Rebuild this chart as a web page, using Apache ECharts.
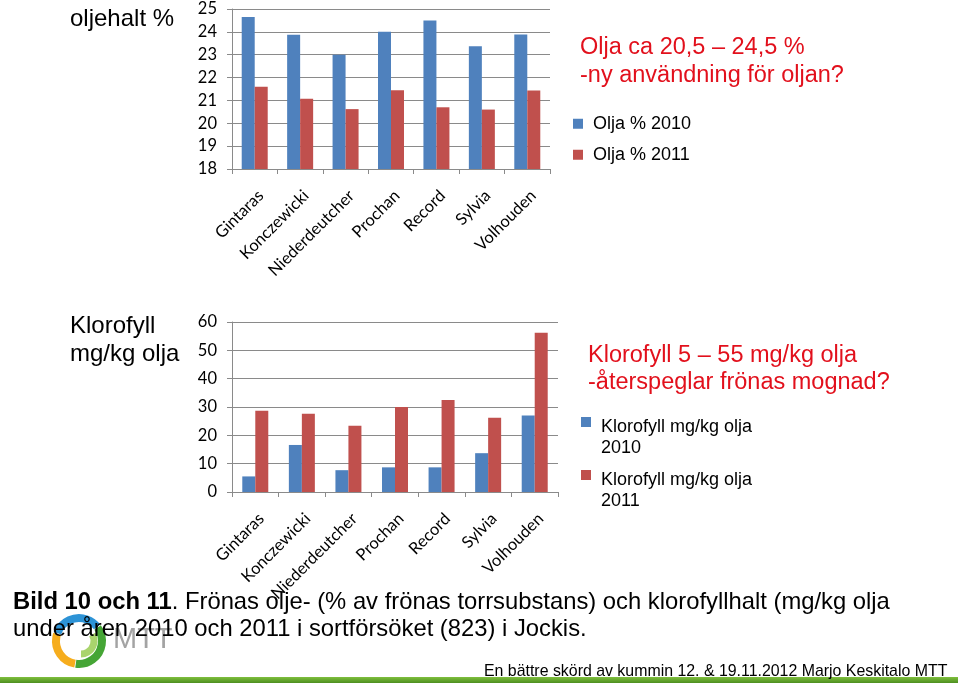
<!DOCTYPE html>
<html><head><meta charset="utf-8">
<script src="https://cdn.jsdelivr.net/npm/echarts@6/dist/echarts.min.js"></script>
<style>html,body{margin:0;padding:0;background:#fff}#c{width:960px;height:686px}</style>
</head><body><div id="c"></div>
<script>
// ---- data ----
const categories = ['Gintaras', 'Konczewicki', 'Niederdeutcher', 'Prochan', 'Record', 'Sylvia', 'Volhouden'];
const oil2010 = [24.65, 23.87, 23.0, 24.0, 24.5, 23.37, 23.88];
const oil2011 = [21.6, 21.07, 20.62, 21.45, 20.7, 20.6, 21.43];
const chl2010 = [5.5, 16.6, 7.7, 8.7, 8.7, 13.7, 27.0];
const chl2011 = [28.7, 27.6, 23.4, 30.0, 32.5, 26.2, 56.2];
const oilTicks = [18, 19, 20, 21, 22, 23, 24, 25];
const chlTicks = [0, 10, 20, 30, 40, 50, 60];
const seriesNames = ['Olja % 2010', 'Olja % 2011', 'Klorofyll mg/kg olja 2010', 'Klorofyll mg/kg olja 2011'];

const BLUE = '#4F81BD', RED = '#C0504D', GRID = '#8a8a8a';
const SANS = '"Liberation Sans", Arial, sans-serif';
const LABF = 'Lato, "Open Sans", sans-serif';
const TITLE_RED = '#e2101c';

function xAxis(gi) {
  return {
    type: 'category', gridIndex: gi, data: categories,
    axisLine: { lineStyle: { color: GRID, width: 1 } },
    axisTick: { show: true, length: 5, lineStyle: { color: GRID } },
    axisLabel: { interval: 0, rotate: 45, margin: 18, verticalAlign: 'top',
      color: '#000', fontFamily: LABF, fontSize: 16.5 }
  };
}
function yAxis(gi, ticks) {
  return {
    type: 'value', gridIndex: gi, min: ticks[0], max: ticks[ticks.length - 1],
    interval: ticks[1] - ticks[0],
    axisLine: { show: true, lineStyle: { color: GRID } },
    axisTick: { show: true, length: 5, lineStyle: { color: GRID } },
    splitLine: { show: true, lineStyle: { color: GRID, width: 1 } },
    axisLabel: { margin: 15, color: '#000', fontFamily: LABF, fontSize: 16.5 }
  };
}
function bar(name, data, gi, color) {
  return { type: 'bar', name, data, xAxisIndex: gi, yAxisIndex: gi,
    barWidth: 13, barGap: '0%', itemStyle: { color } };
}
const legendRich = {
  s: { width: 5, fontFamily: SANS, fontSize: 18, color: '#000' },
  t: { fontFamily: SANS, fontSize: 18, color: '#000', lineHeight: 21.5 },
  e: { height: 31, lineHeight: 31, fontSize: 2 }
};
function legendTop(name, top) {
  return { data: [name], left: 573, top, orient: 'vertical', padding: 0,
    selectedMode: false, itemWidth: 10, itemHeight: 10, itemGap: 0, icon: 'rect',
    formatter: n => '{s|}{t|' + n + '}',
    textStyle: { fontFamily: SANS, fontSize: 18, color: '#000', lineHeight: 18, rich: legendRich } };
}
function legendBottom(name, top) {
  return { data: [name], left: 581, top, orient: 'vertical', padding: 0,
    selectedMode: false, itemWidth: 10, itemHeight: 10, itemGap: 0, icon: 'rect',
    formatter: n => {
      const parts = n.split(' olja ');
      return '{e|}\n{s|}{t|' + parts[0] + ' olja}\n{s|}{t|' + parts[1] + '}';
    },
    textStyle: { fontFamily: SANS, fontSize: 18, color: '#000', lineHeight: 21.5, rich: legendRich } };
}
function txt(text, x, y, size, color, extra) {
  return Object.assign({ type: 'text', x, y, silent: true,
    style: { text, fontFamily: SANS, fontSize: size, fill: color, verticalAlign: 'middle', align: 'left' } }, extra || {});
}

const chart = echarts.init(document.getElementById('c'), null, { renderer: 'canvas' });
chart.setOption({
  animation: false,
  backgroundColor: '#fff',
  grid: [
    { left: 232, top: 9, width: 318, height: 160, outerBoundsMode: 'none' },
    { left: 232, top: 322, width: 326, height: 170, outerBoundsMode: 'none' }
  ],
  xAxis: [xAxis(0), xAxis(1)],
  yAxis: [yAxis(0, oilTicks), yAxis(1, chlTicks)],
  legend: [
    legendTop(seriesNames[0], 113),
    legendTop(seriesNames[1], 144),
    legendBottom(seriesNames[2], 385),
    legendBottom(seriesNames[3], 438)
  ],
  series: [
    bar(seriesNames[0], oil2010, 0, BLUE),
    bar(seriesNames[1], oil2011, 0, RED),
    bar(seriesNames[2], chl2010, 1, BLUE),
    bar(seriesNames[3], chl2011, 1, RED)
  ],
  graphic: [
    // logo
    { type: 'group', silent: true, children: [
      { type: 'arc', shape: { cx: 79, cy: 641, r: 23, startAngle: 200 * Math.PI / 180, endAngle: 322 * Math.PI / 180 },
        style: { stroke: '#2d93d6', lineWidth: 8, fill: null } },
      { type: 'arc', shape: { cx: 79, cy: 641, r: 23, startAngle: 100 * Math.PI / 180, endAngle: 198 * Math.PI / 180 },
        style: { stroke: '#f6ad1d', lineWidth: 8, fill: null } },
      { type: 'arc', shape: { cx: 79, cy: 641, r: 23, startAngle: -36 * Math.PI / 180, endAngle: 98 * Math.PI / 180 },
        style: { stroke: '#45a535', lineWidth: 8, fill: null } },
      { type: 'arc', shape: { cx: 81, cy: 641, r: 13, startAngle: -30 * Math.PI / 180, endAngle: 90 * Math.PI / 180 },
        style: { stroke: '#a9d46d', lineWidth: 7, fill: null } },
      { type: 'text', x: 113, y: 640, style: { text: 'MTT', fontFamily: SANS, fontSize: 29, fill: '#a3a3a3', verticalAlign: 'middle' } }
    ] },
    // left titles
    txt('oljehalt %', 70, 19, 24, '#000'),
    txt('Klorofyll', 70, 326, 24, '#000'),
    txt('mg/kg olja', 70, 354.5, 24, '#000'),
    // red notes
    txt('Olja ca 20,5 – 24,5 %', 580, 48, 23.5, TITLE_RED),
    txt('-ny användning för oljan?', 580, 75.5, 23.5, TITLE_RED),
    txt('Klorofyll 5 – 55 mg/kg olja', 588, 356, 23.5, TITLE_RED),
    txt('-återspeglar frönas mognad?', 588, 383, 23.5, TITLE_RED),
    // caption
    { type: 'text', x: 13, y: 602.7, silent: true, style: {
        text: '{b|Bild 10 och 11}. Frönas olje- (% av frönas torrsubstans) och klorofyllhalt (mg/kg olja',
        fontFamily: SANS, fontSize: 23.8, fill: '#000', verticalAlign: 'middle',
        rich: { b: { fontFamily: SANS, fontSize: 23.8, fontWeight: 'bold', fill: '#000' } } } },
    txt('under åren 2010 och 2011 i sortförsöket (823) i Jockis.', 13, 629.4, 23.8, '#000'),
    // footer
    { type: 'rect', silent: true, shape: { x: 0, y: 677, width: 958, height: 6 },
      style: { fill: new echarts.graphic.LinearGradient(0, 0, 0, 1, [
        { offset: 0, color: '#7fbf3d' }, { offset: 1, color: '#4d8f20' }]) } },
    txt('En bättre skörd av kummin 12. & 19.11.2012 Marjo Keskitalo MTT', 484, 671.5, 15.9, '#000')
  ]
});
</script>
</body></html>
